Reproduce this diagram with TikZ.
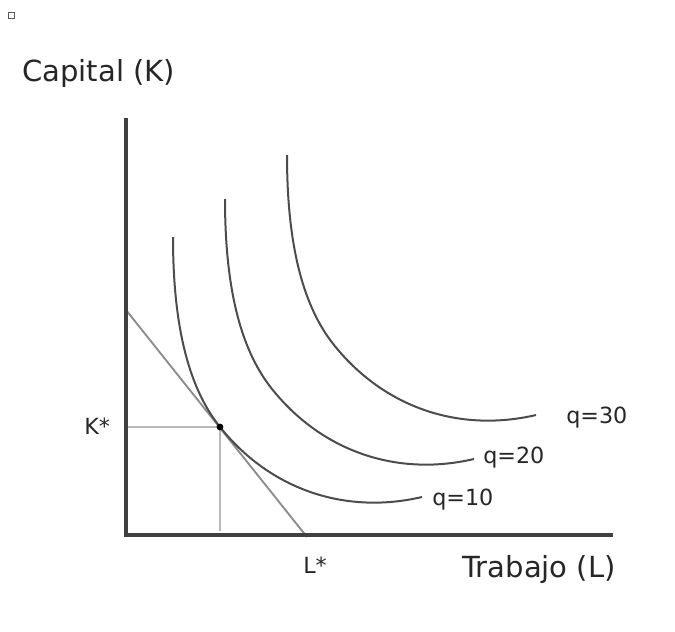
\documentclass[tikz,border=0pt]{standalone}
\usepackage{fontspec}
\setmainfont{DejaVu Sans}
\begin{document}
\begin{tikzpicture}[x=0.75pt,y=-0.75pt,
 axisline/.style={draw=black!75, line width=2.3pt},
 isoquant/.style={draw=black!70, line width=1.5pt},
 guide/.style={draw=black!28, line width=1.9pt},
 budget/.style={draw=black!45, line width=1.4pt},
 biglabel/.style={inner sep=0pt, anchor=base west, font=\fontsize{21.8}{26}\selectfont, text=black!85},
 smalllabel/.style={inner sep=0pt, anchor=base west, font=\fontsize{16.7}{20}\selectfont, text=black!85}]
\useasboundingbox (0,0) rectangle (675,632);
% small square marker
\draw[black!65, line width=0.9pt] (8.5,12.5) rectangle (14.5,18.5);
% coordinates
\coordinate (O) at (126,535);
\coordinate (Ytop) at (126,118);
\coordinate (Xend) at (613,535);
\coordinate (E) at (220,427);
\coordinate (Kax) at (126,427);
\coordinate (Lbot) at (220,531);
\coordinate (B1) at (126,310);
\coordinate (B2) at (307,537);
% guides
\draw[guide] (Kax) -- (E) -- (Lbot);
% budget line
\draw[budget] (B1) -- (B2);
% isoquants (same shape, translated)
\draw[isoquant] (173,237) .. controls (173,330) and (190,389.5) .. (220,427)
  .. controls (270,489.5) and (345,515) .. (422,497);
\draw[isoquant, shift={(52,-38)}] (173,237) .. controls (173,330) and (190,389.5) .. (220,427)
  .. controls (270,489.5) and (345,515) .. (422,497);
\draw[isoquant, shift={(114,-82)}] (173,237) .. controls (173,330) and (190,389.5) .. (220,427)
  .. controls (270,489.5) and (345,515) .. (422,497);
% axes
\draw[axisline] (Ytop) -- (O) -- (Xend);
% tangency point
\fill[black] (E) circle (3.4);
% labels
\node[biglabel] (cap) at (22,81) {Capital (K)};
\node[biglabel] (trab) at (462,577) {Trabajo (L)};
\node[smalllabel] (kstar) at (84,434) {K*};
\node[smalllabel] (lstar) at (303,573) {L*};
\node[smalllabel] (q30) at (566,423) {q=30};
\node[smalllabel] (q20) at (483,463) {q=20};
\node[smalllabel] (q10) at (432,505) {q=10};
\end{tikzpicture}
\end{document}
